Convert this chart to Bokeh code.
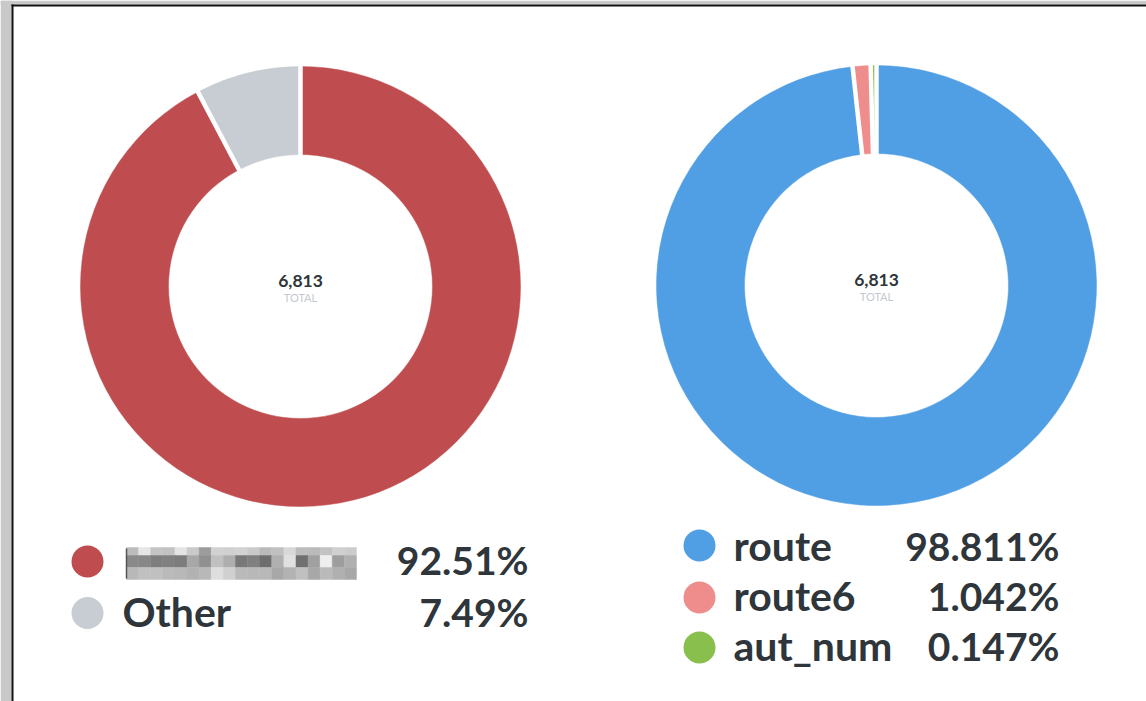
import math
from bokeh.plotting import figure
from bokeh.models import Range1d, ColumnDataSource, BoxAnnotation
from bokeh.embed import file_html
from bokeh.resources import INLINE
from bokeh.core.properties import value

# ---------------- data ----------------
LEFT_CATEGORIES = ["(hidden)", "Other"]          # first label is pixelated in the original
LEFT_COUNTS = [6303, 510]
LEFT_COLORS = ["#BF4D4F", "#C7CDD3"]
LEFT_DECIMALS = 2

RIGHT_CATEGORIES = ["route", "route6", "aut_num"]
RIGHT_COUNTS = [6732, 71, 10]
RIGHT_COLORS = ["#509EE3", "#EF8C8C", "#88BF4D"]
RIGHT_DECIMALS = 3

CENTER_CAPTION = "TOTAL"

# shades of the pixelated (redacted) legend label, 3 rows x 19 cells
REDACTED_SHADES = [
    ["#bcbcbc", "#e6e6e6", "#c4c4c4", "#c2c2c2", "#e4e4e4", "#cacaca", "#9c9c9c", "#d2d2d2", "#d0d0d0",
     "#d2d2d2", "#cacaca", "#bababa", "#c0c0c0", "#d8d8d8", "#bcbcbc", "#bababa", "#c2c2c2", "#d0d0d0", "#cccccc"],
    ["#8a8a8a", "#888888", "#7e7e7e", "#808080", "#7c7c7c", "#a8a8a8", "#909090", "#c0c0c0", "#aeaeae",
     "#787878", "#808080", "#6e6e6e", "#b0b0b0", "#e0e0e0", "#707070", "#a0a0a0", "#eeeeee", "#9e9e9e", "#b0b0b0"],
    ["#b8b8b8", "#c0c0c0", "#c0c0c0", "#bababa", "#b8b8b8", "#b2b2b2", "#b8b8b8", "#dedede", "#d0d0d0",
     "#bababa", "#b8b8b8", "#b8b8b8", "#a8a8a8", "#b2b2b2", "#c0c0c0", "#a8a8a8", "#bababa", "#b0b0b0", "#a8a8a8"],
]

# ---------------- layout (page pixels) ----------------
W, H = 1146, 701
R_OUT, R_IN = 220, 132
PAD = math.pi / 180.0
PAD_RADIUS = math.sqrt(R_OUT ** 2 + R_IN ** 2)
GAP_W = 2 * PAD_RADIUS * math.sin(PAD / 2)
BASE_FIX = 0.39          # compensation of rendered baseline, in em
LABEL_SIZE = 41
PCT_SIZE = 39

TEXT_DARK = "#2E353B"
FONT = "Lato"

p = figure(width=W, height=H, output_backend="svg", toolbar_location=None,
           x_range=Range1d(0, W), y_range=Range1d(-H, 0),
           x_axis_type=None, y_axis_type=None, min_border=0,
           outline_line_color=None, background_fill_color="white",
           border_fill_color="white")
p.grid.visible = False

# window frame of the screenshot (left and top strips)
p.add_layout(BoxAnnotation(left=0, right=11, fill_color="#c9c9c9", fill_alpha=1, line_alpha=0))
p.add_layout(BoxAnnotation(top=0, bottom=-4, fill_color="#c9c9c9", fill_alpha=1, line_alpha=0))
p.add_layout(BoxAnnotation(left=11, right=13, top=-4, fill_color="#111111", fill_alpha=1, line_alpha=0))
p.add_layout(BoxAnnotation(left=11, top=-4, bottom=-6, fill_color="#111111", fill_alpha=1, line_alpha=0))


def by(page_baseline, size):
    """data y for a text whose alphabetic baseline should sit at page_baseline"""
    return -page_baseline + BASE_FIX * size


def donut(cx, cy_page, counts, colors):
    cy = -cy_page
    n = len(counts)
    total = sum(counts)
    k = (2 * math.pi - n * PAD) / total
    t0s, t1s = [], []
    a = 0.0
    for c in counts:
        t0s.append(a)
        a += c * k + PAD
        t1s.append(a)
    src = ColumnDataSource(dict(
        x=[cx] * n, y=[cy] * n,
        start=[math.pi / 2 - t for t in t0s],
        end=[math.pi / 2 - t for t in t1s],
        color=colors,
    ))
    p.annular_wedge(x="x", y="y", inner_radius=R_IN, outer_radius=R_OUT,
                    start_angle="start", end_angle="end", direction="clock",
                    fill_color="color", line_color="color", line_width=0.5, source=src)
    # white padding gaps between slices
    x0 = [cx + (R_IN - 2) * math.sin(t) for t in t0s]
    y0 = [cy + (R_IN - 2) * math.cos(t) for t in t0s]
    x1 = [cx + (R_OUT + 2) * math.sin(t) for t in t0s]
    y1 = [cy + (R_OUT + 2) * math.cos(t) for t in t0s]
    p.segment(x0=x0, y0=y0, x1=x1, y1=y1, line_color="white", line_width=GAP_W)
    # centre total
    p.text(x=[cx], y=[by(cy_page + 1.5, 17.5)], text=[f"{total:,}"], text_font=value(FONT),
           text_font_style="bold", text_font_size="17.5px", text_color=TEXT_DARK,
           text_align="center", text_baseline="alphabetic")
    p.text(x=[cx], y=[by(cy_page + 15, 11)], text=[CENTER_CAPTION], text_font=value(FONT),
           text_font_size="11px", text_color="#C4C9CF",
           text_align="center", text_baseline="alphabetic")


def legend(dot_x, dot_ys, label_x, base_ys, pct_x, cats, counts, colors, decimals, show):
    total = sum(counts)
    p.scatter(x=[dot_x] * len(cats), y=[-v for v in dot_ys], size=32, marker="circle",
              fill_color=colors, line_color=None)
    lab_x = [label_x for c, s in zip(cats, show) if s]
    lab_y = [by(b, LABEL_SIZE) for b, s in zip(base_ys, show) if s]
    lab_t = [c for c, s in zip(cats, show) if s]
    p.text(x=lab_x, y=lab_y, text=lab_t, text_font=value(FONT), text_font_style="bold",
           text_font_size=f"{LABEL_SIZE}px", text_color=TEXT_DARK, text_align="left",
           text_baseline="alphabetic")
    pcts = [f"{c / total * 100:.{decimals}f}%" for c in counts]
    p.text(x=[pct_x] * len(cats), y=[by(b, PCT_SIZE) for b in base_ys], text=pcts,
           text_font=value(FONT), text_font_style="bold", text_font_size=f"{PCT_SIZE}px",
           text_color=TEXT_DARK, text_align="right", text_baseline="alphabetic")


donut(300, 286, LEFT_COUNTS, LEFT_COLORS)
donut(876, 285, RIGHT_COUNTS, RIGHT_COLORS)

legend(87, [561, 612.5], 122, [575, 627], 528, LEFT_CATEGORIES, LEFT_COUNTS, LEFT_COLORS,
       LEFT_DECIMALS, [False, True])
legend(699, [545, 597, 647], 733, [561, 611, 661], 1059, RIGHT_CATEGORIES, RIGHT_COUNTS,
       RIGHT_COLORS, RIGHT_DECIMALS, [True, True, True])

# pixelated placeholder for the hidden first label
rows = [(547, 555), (555, 567), (567, 579)]
mx0, mx1 = 126, 356
ncol = len(REDACTED_SHADES[0])
cw = (mx1 - mx0) / ncol
ql, qr, qt, qb, qc = [], [], [], [], []
for (top, bot), shades in zip(rows, REDACTED_SHADES):
    for i, sh in enumerate(shades):
        ql.append(mx0 + i * cw)
        qr.append(mx0 + (i + 1) * cw)
        qt.append(-top)
        qb.append(-bot)
        qc.append(sh)
p.quad(left=ql, right=qr, top=qt, bottom=qb, fill_color=qc, line_color=qc, line_width=0.5)
p.segment(x0=[mx0], y0=[-548], x1=[mx0], y1=[-578], line_color="#555555", line_width=1.5)

open("out.html", "w").write(file_html(p, INLINE))
